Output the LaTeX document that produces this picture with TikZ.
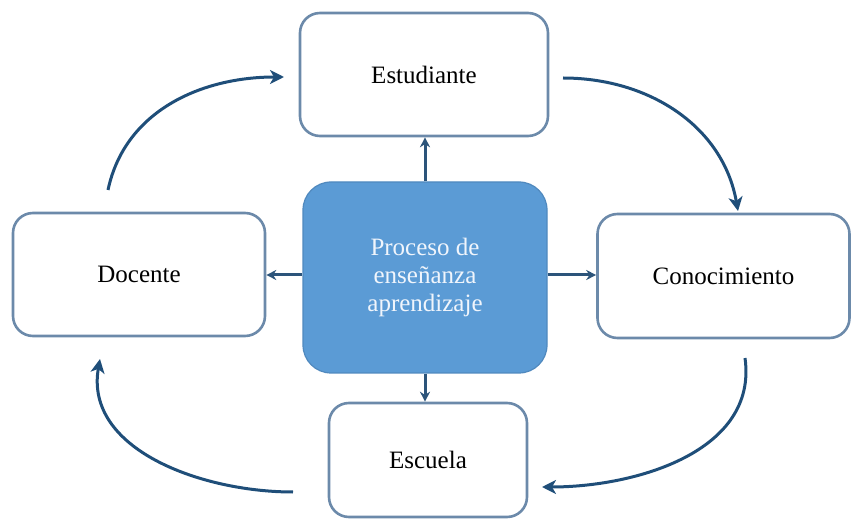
\documentclass[tikz,border=0pt]{standalone}
\usepackage{fontspec}
\setmainfont{Liberation Serif}
\usetikzlibrary{arrows.meta}
\definecolor{boxline}{RGB}{108,138,170}
\definecolor{centerfill}{RGB}{91,155,213}
\definecolor{centerline}{RGB}{80,137,190}
\definecolor{arrowcol}{RGB}{31,78,121}
\definecolor{linkcol}{RGB}{44,84,122}
\definecolor{centertext}{RGB}{240,245,252}
\begin{document}
\begin{tikzpicture}[x=1pt,y=1pt,
  sidebox/.style={draw=boxline, line width=2.6pt, fill=white, rounded corners=20pt,
    minimum width=#1, inner sep=0pt, font=\fontsize{25}{28}\selectfont},
  corebox/.style={draw=centerline, line width=1.2pt, fill=centerfill, rounded corners=28pt,
    minimum width=244pt, minimum height=191pt, inner sep=0pt, align=center,
    text=centertext, font=\fontsize{25}{28}\selectfont},
  link/.style={draw=linkcol, line width=3pt, -{Stealth[length=10pt,width=10pt]}},
  loop/.style={draw=arrowcol, line width=3pt, -{Stealth[length=14pt,width=14pt,inset=4pt]}}
]
\useasboundingbox (0,0) rectangle (852,520);
\node[corebox] (core) at (425,242.5) {Proceso de\\enseñanza\\aprendizaje};
\node[sidebox=248pt, minimum height=123pt] (stud) at (424,445.5) {Estudiante};
\node[sidebox=252pt, minimum height=123pt] (doc) at (139,245.5) {Docente};
\node[sidebox=252pt, minimum height=124pt] (con) at (723.5,244) {Conocimiento};
\node[sidebox=198pt, minimum height=114pt] (esc) at (428,60) {Escuela};
% straight connectors
\draw[link] (core.north) -- (core.north |- stud.south);
\draw[link] (core.west |- 0,245) -- (doc.east |- 0,245);
\draw[link] (core.east |- 0,245) -- (con.west |- 0,245);
\draw[link] (core.south) -- (core.south |- esc.north);
% curved cycle
\coordinate (a1) at (108,330);
\coordinate (a2) at (284,443);
\coordinate (b1) at (563,442);
\coordinate (b2) at (738,309);
\coordinate (c1) at (745,162);
\coordinate (c2) at (542,33);
\coordinate (d1) at (293,28);
\coordinate (d2) at (100,161);
\draw[loop] (a1) to[out=78,in=180] (a2);
\draw[loop] (b1) to[out=0,in=100] (b2);
\draw[loop] (c1) to[out=-82,in=0] (c2);
\draw[loop] (d1) to[out=180,in=-100] (d2);
\end{tikzpicture}
\end{document}
